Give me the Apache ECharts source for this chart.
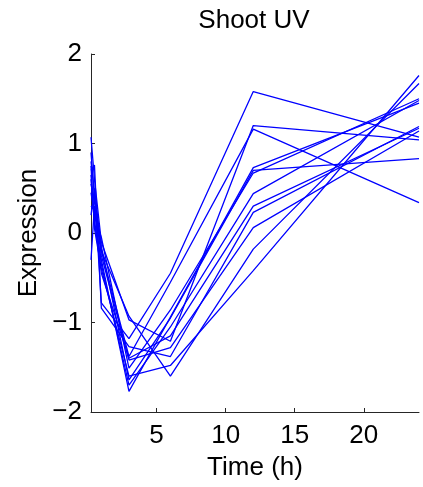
<!DOCTYPE html>
<html>
<head>
<meta charset="utf-8">
<script src="https://cdn.jsdelivr.net/npm/echarts@6/dist/echarts.min.js"></script>
<style>
html,body{margin:0;padding:0;background:#fff;}
#chart{width:423px;height:487px;}
</style>
</head>
<body>
<div id="chart"></div>
<script>
// Time points (h)
const timePoints = [0.25, 0.5, 1, 3, 6, 12, 24];
// Expression profiles (one per gene)
const gene1  = [0.80, 0.45, -0.78, -1.18, -0.45, 1.58, 1.07];
const gene2  = [1.07, 0.60, -0.10, -0.97, -1.21, 1.20, 1.04];
const gene3  = [0.55, 0.35, -0.20, -0.93, -1.60, -0.18, 1.67];
const gene4  = [0.70, 0.76, -0.84, -1.27, -1.38, 0.23, 1.19];
const gene5  = [-0.30, 0.30, -0.25, -1.42, -1.28, 0.06, 1.14];
const gene6  = [0.60, 0.10, -0.30, -1.77, -0.94, 0.73, 1.45];
const gene7  = [0.90, 0.40, -0.15, -1.64, -0.95, 0.70, 0.83];
const gene8  = [0.45, 0.20, -0.05, -1.51, -0.86, 0.67, 1.50];
const gene9  = [0.30, 0.25, -0.35, -1.70, -1.05, 0.44, 1.48];
const gene10 = [0.75, 0.05, -0.40, -1.60, -1.48, -0.42, 1.76];
const gene11 = [0.20, 0.50, -0.20, -1.38, -0.55, 1.16, 0.34];
const gene12 = [0.65, 0.15, -0.45, -1.40, -1.15, 0.30, 1.17];
const genes = [gene1, gene2, gene3, gene4, gene5, gene6, gene7, gene8, gene9, gene10, gene11, gene12];
// Tick labels
const xTicks = [5, 10, 15, 20];
const yTicks = [-2, -1, 0, 1, 2];
const titleText = 'Shoot UV';
const xName = 'Time (h)';
const yName = 'Expression';

const FONT = '"Liberation Sans", Arial, Helvetica, sans-serif';
const FS = 26;
const chart = echarts.init(document.getElementById('chart'), null, {renderer: 'canvas'});
const series = genes.map(g => ({
  type: 'line',
  data: timePoints.map((t, i) => [t, g[i]]),
  symbol: 'none',
  lineStyle: {color: '#0000ff', width: 1.3},
  itemStyle: {color: '#0000ff'},
  animation: false
}));
chart.setOption({
  animation: false,
  title: {
    text: titleText,
    left: 254, top: 8, textAlign: 'center', padding: 0,
    textStyle: {fontFamily: FONT, fontSize: FS, fontWeight: 'normal', color: '#000'}
  },
  grid: {left: 91, right: 4, top: 54, bottom: 75, containLabel: false},
  xAxis: {
    type: 'value', min: 0.25, max: 24,
    name: xName, nameLocation: 'middle', nameGap: 43,
    nameTextStyle: {fontFamily: FONT, fontSize: FS, color: '#000'},
    axisLine: {show: true, onZero: false, lineStyle: {color: '#262626', width: 1}},
    axisTick: {show: true, inside: true, length: 4, customValues: xTicks, lineStyle: {color: '#262626'}},
    axisLabel: {customValues: xTicks, fontFamily: FONT, fontSize: FS, color: '#000', margin: 11},
    splitLine: {show: false}
  },
  yAxis: {
    type: 'value', min: yTicks[0], max: yTicks[yTicks.length - 1], interval: 1,
    name: yName, nameLocation: 'middle', nameGap: 48, nameRotate: 90,
    nameTextStyle: {fontFamily: FONT, fontSize: FS, color: '#000'},
    axisLine: {show: true, onZero: false, lineStyle: {color: '#262626', width: 1}},
    axisTick: {show: true, inside: true, length: 4, lineStyle: {color: '#262626'}},
    axisLabel: {
      fontFamily: FONT, fontSize: FS, color: '#000', margin: 9,
      formatter: v => (v < 0 ? '\u2212' + Math.abs(v) : String(v))
    },
    splitLine: {show: false}
  },
  series: series
});
</script>
</body>
</html>
